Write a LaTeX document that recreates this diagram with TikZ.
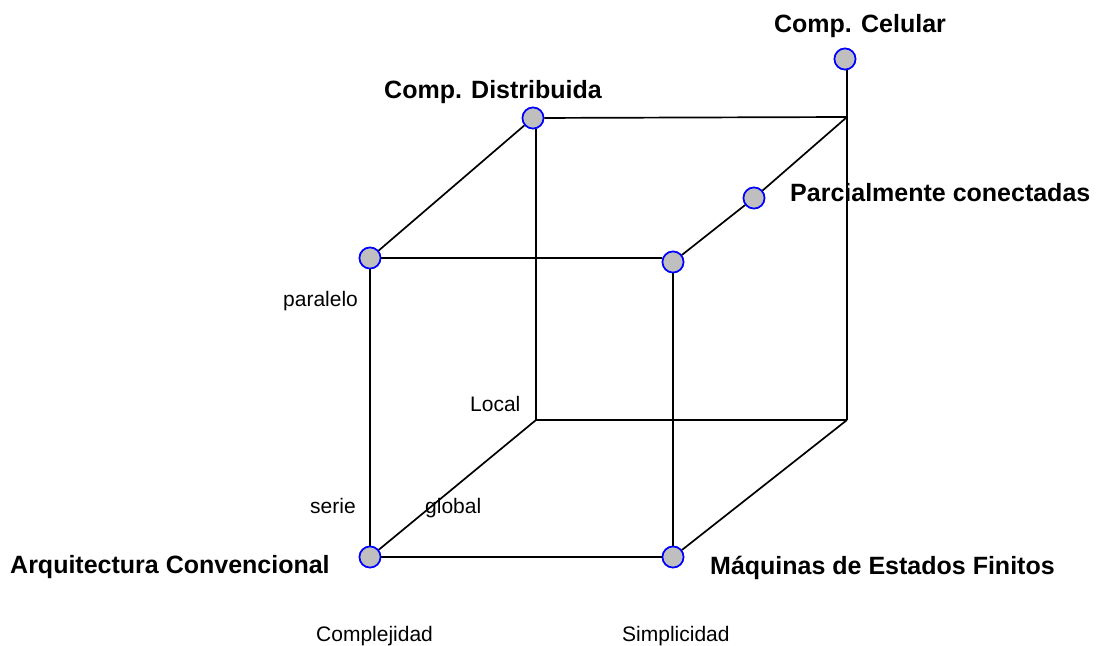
\documentclass[tikz,border=0pt]{standalone}
\usepackage{fontspec}
\setmainfont{Liberation Sans}
\begin{document}
\begin{tikzpicture}[x=1pt,y=-1pt,
  vtx/.style={circle,draw=blue,fill=gray!50,line width=1.6pt,minimum size=21pt,inner sep=0pt},
  edge/.style={line width=1.7pt,black},
  big/.style={font=\fontsize{25}{30}\selectfont\bfseries,inner sep=0pt},
  small/.style={font=\fontsize{21}{25}\selectfont,inner sep=0pt}]
\useasboundingbox (0,0) rectangle (1105,645);
% corners
\coordinate (bbl) at (536,420);
\coordinate (bbr) at (847,420);
\coordinate (btr) at (847,117);
\node[vtx] (ac) at (370,557) {};
\node[vtx] (mef) at (673,557) {};
\node[vtx] (par) at (370,258) {};
\node[vtx] (ftr) at (673,262) {};
\node[vtx] (cd) at (533,118) {};
\node[vtx] (cc) at (845,59) {};
\node[vtx] (pc) at (754,198) {};
% edges
\draw[edge] (ac) -- (mef);
\draw[edge] (ac) -- (par);
\draw[edge] (mef) -- (ftr);
\draw[edge] (par) -- (par -| ftr.west);
\draw[edge] (par) -- (cd);
\draw[edge] (ftr) -- (pc);
\draw[edge] (pc) -- (btr);
\draw[edge] (cd) -- (btr);
\draw[edge] (cd.south) ++(3,0) coordinate (cdb) -- (cdb |- bbl);
\draw[edge] (ac) -- (bbl);
\draw[edge] (bbl) -- (bbr);
\draw[edge] (mef) -- (bbr);
\draw[edge] (bbr) -- (btr);
\draw[edge] (btr) -- (btr |- cc.south);
% redraw circles on top
\node[vtx] at (ac) {};
\node[vtx] at (mef) {};
\node[vtx] at (par) {};
\node[vtx] at (ftr) {};
\node[vtx] at (cd) {};
\node[vtx] at (cc) {};
\node[vtx] at (pc) {};
% labels
\node[big,anchor=base] (lcc) at (860,32) {Comp. Celular};
\node[big,anchor=base] (lcd) at (493,98) {Comp. Distribuida};
\node[big,anchor=base west] (lpc) at (790,201) {Parcialmente conectadas};
\node[big,anchor=base west] (lac) at (10,573) {Arquitectura Convencional};
\node[big,anchor=base west] (lmef) at (710,574) {Máquinas de Estados Finitos};
\node[small,anchor=base west] (lpar) at (283,306) {paralelo};
\node[small,anchor=base west] (lloc) at (470,411) {Local};
\node[small,anchor=base west] (lser) at (310,513) {serie};
\node[small,anchor=base west] (lglo) at (425,513) {global};
\node[small,anchor=base west] (lcom) at (316,641) {Complejidad};
\node[small,anchor=base west] (lsim) at (622,641) {Simplicidad};
\end{tikzpicture}
\end{document}
